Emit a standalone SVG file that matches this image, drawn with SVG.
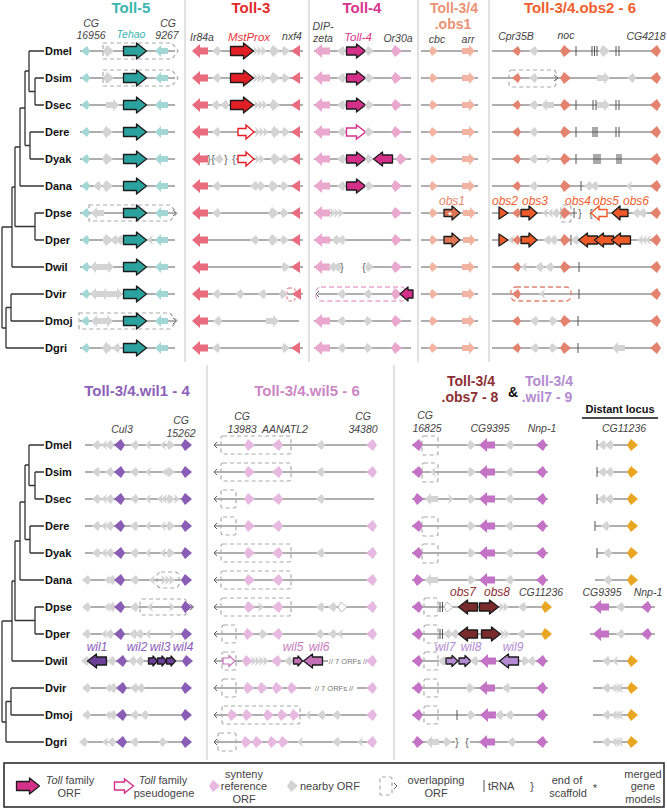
<svg xmlns="http://www.w3.org/2000/svg" xmlns:xlink="http://www.w3.org/1999/xlink" width="667" height="808" viewBox="0 0 667 808">
<style>
.g{fill:#d4d4d4}.g5{fill:#a3d7d5}.r3{fill:#e86b7e}.p4{fill:#eaa8cf}.s1{fill:#f2b3a1}.s2{fill:#e3836f}
.pu{fill:#8a5cb5}.pk{fill:#e8b9e0}.oc{fill:#c472c6}.au{fill:#e9a623}
.k{stroke:#1b1b1b;stroke-width:1.3;stroke-linejoin:round}
.T5{fill:#2ba29e}.T3{fill:#e31f26}.T4{fill:#d4308a}.O1{fill:#de7656}.O2{fill:#ef5a29}.W1{fill:#6b3e98}.W5{fill:#c46fb6}.O7{fill:#7b2a2c}.W7{fill:#b58ad5}
.P3{fill:#fff;stroke:#e31f26;stroke-width:1.4}.P4{fill:#fff;stroke:#d4308a;stroke-width:1.4}.PO{fill:#fff;stroke:#ef5a29;stroke-width:1.4}.PW{fill:#fff;stroke:#c46fb6;stroke-width:1.2}.PG{fill:#fff;stroke:#bdbdbd;stroke-width:1}
.ln{fill:none;stroke:#5e5e5e;stroke-width:1}
.tk{fill:none;stroke:#555;stroke-width:1}
.db{fill:none;stroke:#aaa;stroke-width:1.2;stroke-dasharray:4 3}
.sep{stroke:#c4c4c4;stroke-width:1}
.tree{fill:none;stroke:#333;stroke-width:1.3}
text{font-family:"Liberation Sans",Arial,sans-serif}
.sp{font-weight:bold;font-size:11px;fill:#111}
.ti{font-weight:bold;font-size:15px;text-anchor:middle}
.t2{font-weight:bold;font-size:14px;text-anchor:middle}
.lb{font-style:italic;font-size:10.5px;fill:#444;text-anchor:middle}
.on{font-style:italic;font-size:12px;text-anchor:middle}
.br{font-size:10px;fill:#555;text-anchor:middle}
.orf{font-size:7.5px;fill:#777;text-anchor:middle}
.lg{font-size:11px;fill:#444;text-anchor:middle}
</style>
<defs>
<path id="kr" d="M-4,0L-1,-5L5,0L-1,5Z"/>
<path id="kl" d="M4,0L1,-5L-5,0L1,5Z"/>
<path id="Kr" d="M-5,0L-1,-6L6,0L-1,6Z"/>
<path id="Kl" d="M5,0L1,-6L-6,0L1,6Z"/>
<path id="cr" d="M-3,-5L3,0L-3,5L-1.5,0Z"/>
<path id="cl" d="M3,-5L-3,0L3,5L1.5,0Z"/>
<path id="mr" d="M-7,-3H0V-6L6,0L0,6V3H-7Z"/>
<path id="ml" d="M7,-3H0V-6L-6,0L0,6V3H7Z"/>
<path id="Lr" d="M-8,-3.5H0V-7L8,0L0,7V3.5H-8Z"/>
<path id="Ll" d="M8,-3.5H0V-7L-8,0L0,7V3.5H8Z"/>
<path id="tl" d="M-5,0L4,-6V6Z"/>
<path id="tr" d="M5,0L-4,-6V6Z"/>
<path id="Tr" d="M-11.5,-4.5H1.5V-8L11.5,0L1.5,8V4.5H-11.5Z"/>
<path id="Ur" d="M-9.5,-4H0.5V-7L9.5,0L0.5,7V4H-9.5Z"/>
<path id="Ul" d="M9.5,-4H-0.5V-7L-9.5,0L-0.5,7V4H9.5Z"/>
<path id="sr" d="M-6,-3H0V-5.5L6,0L0,5.5V3H-6Z"/>
<path id="qr" d="M-4.5,-3H0V-5L4.5,0L0,5V3H-4.5Z"/>
</defs>
<rect width="667" height="808" fill="#fff"/>

<g id="connectors">
<path id="treeTop" class="tree" d="M29,51H44M35,78H44M35,105H44M35,78V105M29,91.5H35M29,51V91.5M25,71H29M30,132H44M30,159H44M30,132V159M25,145.5H30M25,71V145.5M20,108H25M20,186H44M20,108V186M15,147H20M35,213H44M35,240H44M35,213V240M15,226.5H35M15,147V226.5M12,187H15M12,267H44M12,187V267M2,227H12M11,294H44M11,321H44M11,294V321M6,307.5H11M6,348H44M6,307.5V348M2,328H6M2,227V328"/>
<path class="tree" transform="translate(0,394)" d="M29,51H44M35,78H44M35,105H44M35,78V105M29,91.5H35M29,51V91.5M25,71H29M30,132H44M30,159H44M30,132V159M25,145.5H30M25,71V145.5M20,108H25M20,186H44M20,108V186M15,147H20M35,213H44M35,240H44M35,213V240M15,226.5H35M15,147V226.5M12,187H15M12,267H44M12,187V267M2,227H12M11,294H44M11,321H44M11,294V321M6,307.5H11M6,348H44M6,307.5V348M2,328H6M2,227V328"/>
</g>

<g id="species">
<text class="sp" x="45" y="55">Dmel</text><text class="sp" x="45" y="82">Dsim</text><text class="sp" x="45" y="109">Dsec</text><text class="sp" x="45" y="136">Dere</text><text class="sp" x="45" y="163">Dyak</text><text class="sp" x="45" y="190">Dana</text><text class="sp" x="45" y="217">Dpse</text><text class="sp" x="45" y="244">Dper</text><text class="sp" x="45" y="271">Dwil</text><text class="sp" x="45" y="298">Dvir</text><text class="sp" x="45" y="325">Dmoj</text><text class="sp" x="45" y="352">Dgri</text>
<text class="sp" x="45" y="449">Dmel</text><text class="sp" x="45" y="476">Dsim</text><text class="sp" x="45" y="503">Dsec</text><text class="sp" x="45" y="530">Dere</text><text class="sp" x="45" y="557">Dyak</text><text class="sp" x="45" y="584">Dana</text><text class="sp" x="45" y="611">Dpse</text><text class="sp" x="45" y="638">Dper</text><text class="sp" x="45" y="665">Dwil</text><text class="sp" x="45" y="692">Dvir</text><text class="sp" x="45" y="719">Dmoj</text><text class="sp" x="45" y="746">Dgri</text>
</g>

<g id="separators">
<path class="sep" d="M185,0V362M309,0V362M418,0V362M489,0V362M207,365V760M394,365V760"/>
</g>

<g id="toll5">
<text class="ti" x="131" y="13" fill="#3bb5b0">Toll-5</text>
<text class="lb" x="91" y="27">CG</text><text class="lb" x="91" y="39">16956</text>
<text class="lb" x="131" y="38" style="fill:#3bb5b0">Tehao</text>
<text class="lb" x="168" y="27">CG</text><text class="lb" x="167" y="39">9267</text>
<path class="ln" d="M80,51H175M80,78H175M80,105H175M80,132H175M80,159H175M80,186H175M80,213H176M80,240H175M80,267H175M80,294H175M80,321H176M80,348H175M173,210L176.5,213L173,216M173,318L176.5,321L173,324"/>
<path class="db" d="M103,43H172L178,51L172,59H103ZM103,70H172L178,78L172,86H103ZM89,205H170L177,213L170,221H89ZM79,313H170L177,321L170,329H79Z"/>
<use href="#kl" x="86" y="51" class="g5"/><use href="#Kr" x="108" y="51" class="g"/><use href="#Tr" x="135" y="51" class="T5 k"/><use href="#ml" x="161" y="51" class="g5"/>
<use href="#kl" x="86" y="78" class="g5"/><use href="#Kr" x="108" y="78" class="g"/><use href="#Tr" x="135" y="78" class="T5 k"/><use href="#ml" x="161" y="78" class="g5"/>
<use href="#kl" x="86" y="105" class="g5"/><use href="#mr" x="113" y="105" class="g"/><use href="#Tr" x="135" y="105" class="T5 k"/><use href="#ml" x="161" y="105" class="g5"/>
<use href="#kl" x="86" y="132" class="g5"/><use href="#Kr" x="107" y="132" class="g"/><use href="#Tr" x="135" y="132" class="T5 k"/><use href="#ml" x="161" y="132" class="g5"/>
<use href="#kl" x="86" y="159" class="g5"/><use href="#Kr" x="107" y="159" class="g"/><use href="#Tr" x="135" y="159" class="T5 k"/><use href="#ml" x="161" y="159" class="g5"/>
<use href="#kl" x="86" y="186" class="g5"/><use href="#kl" x="98" y="186" class="g"/><use href="#Kr" x="107" y="186" class="g"/><use href="#Tr" x="135" y="186" class="T5 k"/><use href="#ml" x="161" y="186" class="g5"/>
<use href="#kl" x="86" y="213" class="g5"/><use href="#ml" x="97" y="213" class="g"/><use href="#Tr" x="135" y="213" class="T5 k"/><use href="#ml" x="161" y="213" class="g5"/>
<use href="#kl" x="86" y="240" class="g5"/><use href="#Kr" x="107" y="240" class="g"/><use href="#kl" x="115" y="240" class="g"/><use href="#kl" x="120" y="240" class="g"/><use href="#Tr" x="135" y="240" class="T5 k"/><use href="#cl" x="150" y="240" class="g"/><use href="#ml" x="161" y="240" class="g5"/>
<use href="#kl" x="86" y="267" class="g5"/><use href="#ml" x="96" y="267" class="g"/><use href="#mr" x="108" y="267" class="g"/><use href="#Tr" x="135" y="267" class="T5 k"/><use href="#ml" x="161" y="267" class="g5"/>
<use href="#kl" x="86" y="294" class="g5"/><use href="#ml" x="96" y="294" class="g"/><use href="#ml" x="106" y="294" class="g"/><use href="#mr" x="117" y="294" class="g"/><use href="#Tr" x="135" y="294" class="T5 k"/><use href="#ml" x="161" y="294" class="g5"/>
<use href="#kl" x="86" y="321" class="g5"/><use href="#ml" x="97" y="321" class="g"/><use href="#mr" x="107" y="321" class="g"/><use href="#Tr" x="135" y="321" class="T5 k"/><use href="#ml" x="161" y="321" class="g5"/>
<use href="#kl" x="86" y="348" class="g5"/><use href="#Kr" x="107" y="348" class="g"/><use href="#kl" x="117" y="348" class="g"/><use href="#Tr" x="135" y="348" class="T5 k"/><use href="#ml" x="161" y="348" class="g5"/>
</g>

<g id="toll3">
<text class="ti" x="251" y="13" fill="#e02a2a">Toll-3</text>
<text class="lb" x="202" y="41">Ir84a</text>
<text class="lb" x="249" y="41" style="fill:#e8363a;font-size:11.5px">MstProx</text>
<text class="lb" x="292" y="40">nxf4</text>
<path class="ln" d="M193,51H303M193,78H303M193,105H303M193,132H303M193,159H207M214,159H223M236,159H303M193,186H303M193,213H303M193,240H303M193,267H303M193,294H303M193,321H299M193,348H303"/>
<text class="br" x="209" y="163">}</text><text class="br" x="213" y="163">{</text><text class="br" x="226" y="163">}</text><text class="br" x="234" y="163">{</text>
<rect x="287" y="288" width="8" height="13" rx="2" fill="none" stroke="#e86b7e" stroke-width="1" stroke-dasharray="3 2"/>
<use href="#Ll" x="200" y="51" class="r3"/><use href="#kl" x="217" y="51" class="g"/><use href="#Tr" x="242" y="51" class="T3 k"/><use href="#cr" x="256" y="51" class="g"/><use href="#cr" x="260" y="51" class="g"/><use href="#cr" x="264" y="51" class="g"/><use href="#Kr" x="274" y="51" class="g"/><use href="#kr" x="285" y="51" class="g"/><use href="#tl" x="296" y="51" class="r3"/>
<use href="#Ll" x="200" y="78" class="r3"/><use href="#kl" x="217" y="78" class="g"/><use href="#Tr" x="242" y="78" class="T3 k"/><use href="#cr" x="256" y="78" class="g"/><use href="#cr" x="260" y="78" class="g"/><use href="#cr" x="264" y="78" class="g"/><use href="#Kr" x="274" y="78" class="g"/><use href="#kr" x="285" y="78" class="g"/><use href="#tl" x="296" y="78" class="r3"/>
<use href="#Ll" x="200" y="105" class="r3"/><use href="#kl" x="216" y="105" class="g"/><use href="#kl" x="225" y="105" class="g"/><use href="#Tr" x="242" y="105" class="T3 k"/><use href="#cr" x="257" y="105" class="g"/><use href="#cr" x="261" y="105" class="g"/><use href="#cr" x="265" y="105" class="g"/><use href="#Kr" x="274" y="105" class="g"/><use href="#tl" x="296" y="105" class="r3"/>
<use href="#Ll" x="200" y="132" class="r3"/><use href="#kl" x="217" y="132" class="g"/><use href="#Lr" x="246" y="132" class="P3"/><use href="#cr" x="258" y="132" class="g"/><use href="#cr" x="262" y="132" class="g"/><use href="#cr" x="266" y="132" class="g"/><use href="#Kr" x="275" y="132" class="g"/><use href="#kr" x="285" y="132" class="g"/><use href="#tl" x="296" y="132" class="r3"/>
<use href="#Ll" x="200" y="159" class="r3"/><use href="#kl" x="219" y="159" class="g"/><use href="#Lr" x="246" y="159" class="P3"/><use href="#cr" x="258" y="159" class="g"/><use href="#cr" x="262" y="159" class="g"/><use href="#Kr" x="275" y="159" class="g"/><use href="#kr" x="285" y="159" class="g"/><use href="#tl" x="296" y="159" class="r3"/>
<use href="#Ll" x="200" y="186" class="r3"/><use href="#kl" x="217" y="186" class="g"/><use href="#kl" x="255" y="186" class="g"/><use href="#kr" x="261" y="186" class="g"/><use href="#Kr" x="273" y="186" class="g"/><use href="#kr" x="284" y="186" class="g"/><use href="#tl" x="296" y="186" class="r3"/>
<use href="#Ll" x="200" y="213" class="r3"/><use href="#kl" x="217" y="213" class="g"/><use href="#Kr" x="273" y="213" class="g"/><use href="#kr" x="284" y="213" class="g"/><use href="#tl" x="296" y="213" class="r3"/>
<use href="#Ll" x="200" y="240" class="r3"/><use href="#kl" x="255" y="240" class="g"/><use href="#Kr" x="273" y="240" class="g"/><use href="#kr" x="284" y="240" class="g"/><use href="#tl" x="296" y="240" class="r3"/>
<use href="#Ll" x="200" y="267" class="r3"/><use href="#kr" x="285" y="267" class="g"/><use href="#tl" x="296" y="267" class="r3"/>
<use href="#Ll" x="200" y="294" class="r3"/><use href="#kl" x="217" y="294" class="g"/><use href="#kl" x="240" y="294" class="g"/><use href="#kl" x="263" y="294" class="g"/><use href="#kr" x="283" y="294" class="g"/><use href="#tl" x="297" y="294" class="r3"/>
<use href="#Ll" x="200" y="321" class="r3"/><use href="#kl" x="218" y="321" class="g"/><use href="#mr" x="273" y="321" class="g"/>
<use href="#Ll" x="200" y="348" class="r3"/><use href="#kl" x="217" y="348" class="g"/><use href="#kr" x="285" y="348" class="g"/><use href="#tl" x="296" y="348" class="r3"/>
</g>

<g id="toll4">
<text class="ti" x="362" y="13" fill="#d8358b">Toll-4</text>
<text class="lb" x="323" y="30">DIP-</text><text class="lb" x="323" y="42">zeta</text>
<text class="lb" x="358" y="41" style="fill:#d8358b;font-size:11.5px">Toll-4</text>
<text class="lb" x="398" y="42">Or30a</text>
<path class="ln" d="M314,51H411M314,78H411M314,105H411M314,132H411M314,159H411M314,186H411M314,213H411M314,240H411M314,267H340M366,267H411M318,294H402M319,291L316,294L319,297M314,321H411M314,348H411"/>
<text class="br" x="342" y="271">}</text><text class="br" x="364" y="271">{</text>
<rect x="316" y="287" width="90" height="14" rx="5" fill="none" stroke="#eaa8cf" stroke-width="1.3" stroke-dasharray="5 3"/>
<use href="#Ll" x="322" y="51" class="p4"/><use href="#kl" x="342" y="51" class="g"/><use href="#Ur" x="356" y="51" class="T4 k"/><use href="#kr" x="369" y="51" class="g"/><use href="#Kr" x="396" y="51" class="p4"/>
<use href="#Ll" x="322" y="78" class="p4"/><use href="#kl" x="342" y="78" class="g"/><use href="#Ur" x="356" y="78" class="T4 k"/><use href="#kr" x="369" y="78" class="g"/><use href="#Kr" x="396" y="78" class="p4"/>
<use href="#Ll" x="322" y="105" class="p4"/><use href="#kl" x="342" y="105" class="g"/><use href="#Ur" x="356" y="105" class="T4 k"/><use href="#kr" x="369" y="105" class="g"/><use href="#Kr" x="396" y="105" class="p4"/>
<use href="#Ll" x="322" y="132" class="p4"/><use href="#kl" x="342" y="132" class="g"/><use href="#Ur" x="356" y="132" class="P4"/><use href="#kr" x="369" y="132" class="g"/><use href="#Kr" x="396" y="132" class="p4"/>
<use href="#Ll" x="322" y="159" class="p4"/><use href="#kl" x="342" y="159" class="g"/><use href="#Ur" x="356" y="159" class="T4 k"/><use href="#kr" x="369" y="159" class="g"/><use href="#Kr" x="401" y="159" class="p4"/><use href="#Ul" x="383" y="159" class="T4 k"/>
<use href="#Ll" x="322" y="186" class="p4"/><use href="#kl" x="342" y="186" class="g"/><use href="#Ur" x="356" y="186" class="T4 k"/><use href="#kr" x="369" y="186" class="g"/><use href="#Kr" x="396" y="186" class="p4"/>
<use href="#Ll" x="322" y="213" class="p4"/><use href="#cr" x="333" y="213" class="g"/><use href="#cr" x="337" y="213" class="g"/><use href="#cr" x="341" y="213" class="g"/><use href="#Kr" x="396" y="213" class="p4"/>
<use href="#Ll" x="322" y="240" class="p4"/><use href="#kl" x="336" y="240" class="g"/><use href="#kl" x="342" y="240" class="g"/><use href="#Kr" x="396" y="240" class="p4"/>
<use href="#Ll" x="322" y="267" class="p4"/><use href="#kl" x="333" y="267" class="g"/><use href="#kl" x="338" y="267" class="g"/><use href="#kr" x="369" y="267" class="g"/><use href="#Kr" x="396" y="267" class="p4"/>
<use href="#kl" x="342" y="294" class="g"/><use href="#kl" x="368" y="294" class="g"/><use href="#Kr" x="396" y="294" class="p4"/>
<path class="T4 k" d="M400,294L408,287V290H413V298H408V301Z"/>
<use href="#Ll" x="322" y="321" class="p4"/><use href="#kl" x="342" y="321" class="g"/><use href="#kr" x="368" y="321" class="g"/><use href="#Kr" x="396" y="321" class="p4"/>
<use href="#Ll" x="322" y="348" class="p4"/><use href="#kl" x="342" y="348" class="g"/><use href="#kr" x="368" y="348" class="g"/><use href="#Kr" x="396" y="348" class="p4"/>
</g>

<g id="obs1">
<text class="t2" x="454" y="13" fill="#eb9274">Toll-3/4</text>
<text class="t2" x="453" y="29" fill="#eb9274">.obs1</text>
<text class="lb" x="437" y="43">cbc</text><text class="lb" x="468" y="43">arr</text>
<text class="on" x="452" y="205" fill="#e8866a">obs1</text>
<path class="ln" d="M421,51H478M421,78H478M421,105H478M421,132H478M421,159H478M421,186H478M421,213H478M421,240H478M421,267H478M421,294H478M421,321H478M421,348H478"/>
<use href="#kr" x="433" y="51" class="s1"/><use href="#mr" x="469" y="51" class="s1"/>
<use href="#kr" x="433" y="78" class="s1"/><use href="#mr" x="469" y="78" class="s1"/>
<use href="#kr" x="433" y="105" class="s1"/><use href="#mr" x="469" y="105" class="s1"/>
<use href="#kr" x="433" y="132" class="s1"/><use href="#mr" x="469" y="132" class="s1"/>
<use href="#kr" x="433" y="159" class="s1"/><use href="#mr" x="469" y="159" class="s1"/>
<use href="#kr" x="433" y="186" class="s1"/><use href="#mr" x="469" y="186" class="s1"/>
<use href="#kr" x="433" y="213" class="s1"/><use href="#mr" x="470" y="213" class="s1"/><use href="#Lr" x="452" y="213" class="O1 k"/>
<text x="450" y="218" style="font-size:9px;font-weight:bold;fill:#fff;text-anchor:middle">*</text>
<use href="#kr" x="433" y="240" class="s1"/><use href="#mr" x="470" y="240" class="s1"/><use href="#Lr" x="452" y="240" class="O1 k"/>
<use href="#kr" x="433" y="267" class="s1"/><use href="#mr" x="469" y="267" class="s1"/>
<use href="#kr" x="433" y="294" class="s1"/><use href="#mr" x="469" y="294" class="s1"/>
<use href="#kr" x="433" y="321" class="s1"/><use href="#mr" x="469" y="321" class="s1"/>
<use href="#kr" x="433" y="348" class="s1"/><use href="#mr" x="469" y="348" class="s1"/>
</g>

<g id="obs2-6">
<text class="ti" x="580" y="13" fill="#f0602e">Toll-3/4.obs2 - 6</text>
<text class="lb" x="516" y="40">Cpr35B</text><text class="lb" x="566" y="39">noc</text><text class="lb" x="646" y="40">CG4218</text>
<text class="on" x="505" y="205" fill="#ef5f30">obs2</text><text class="on" x="535" y="205" fill="#ef5f30">obs3</text><text class="on" x="578" y="205" fill="#ef5f30">obs4</text><text class="on" x="606" y="205" fill="#ef5f30">obs5</text><text class="on" x="636" y="205" fill="#ef5f30">obs6</text>
<path class="ln" d="M492,51H660M492,78H660M492,105H660M492,132H660M492,159H660M492,186H660M492,213H577M593,213H660M492,240H660M492,267H660M492,294H660M492,321H660M492,348H660"/>
<path class="tk" d="M576,46v10M592,46v10M594.5,46v10M597,46v10M616,46v10M619,46v10M576,100v10M593,100v10M596,100v10M616,100v10M619,100v10M576,127v10M593,127v10M595,127v10M597,127v10M616,127v10M619,127v10M576,154v10M594,154v10M596,154v10M598,154v10M600,154v10M617,154v10M619,154v10M621,154v10M581,181v10M574,208v10M571,235v10M579,262v10M579,289v10M578,316v10M578,343v10"/>
<rect class="db" x="509" y="70" width="47" height="17" rx="3"/>
<path class="ln" d="M554,75L558,78L554,81"/>
<rect class="db" x="561" y="205" width="10" height="17" rx="2"/>
<rect x="511" y="287" width="60" height="14" rx="5" fill="none" stroke="#e3836f" stroke-width="1.3" stroke-dasharray="5 3"/>
<text class="br" x="580" y="217">}</text><text class="br" x="591" y="217">{</text>
<use href="#kl" x="517" y="51" class="s2"/><use href="#kl" x="534" y="51" class="g"/><use href="#Kr" x="565" y="51" class="s2"/><use href="#Kr" x="604" y="51" class="g"/><use href="#Kl" x="656" y="51" class="s2"/>
<use href="#kl" x="517" y="78" class="s2"/><use href="#kl" x="534" y="78" class="g"/><use href="#Kr" x="565" y="78" class="s2"/><use href="#mr" x="604" y="78" class="g"/><use href="#kl" x="632" y="78" class="g"/><use href="#Kl" x="656" y="78" class="s2"/>
<use href="#kl" x="517" y="105" class="s2"/><use href="#kl" x="534" y="105" class="g"/><use href="#ml" x="547" y="105" class="g"/><use href="#Kr" x="565" y="105" class="s2"/><use href="#mr" x="604" y="105" class="g"/><use href="#Kl" x="656" y="105" class="s2"/>
<use href="#kl" x="517" y="132" class="s2"/><use href="#kl" x="534" y="132" class="g"/><use href="#Kr" x="565" y="132" class="s2"/><use href="#Kl" x="656" y="132" class="s2"/>
<use href="#kl" x="517" y="159" class="s2"/><use href="#kl" x="534" y="159" class="g"/><use href="#cr" x="549" y="159" class="g"/><use href="#Kr" x="565" y="159" class="s2"/><use href="#Kl" x="656" y="159" class="s2"/>
<use href="#kl" x="517" y="186" class="s2"/><use href="#kl" x="534" y="186" class="g"/><use href="#Kr" x="565" y="186" class="s2"/><use href="#kl" x="589" y="186" class="g"/><use href="#kl" x="595" y="186" class="g"/><use href="#cl" x="629" y="186" class="g"/><use href="#Kl" x="656" y="186" class="s2"/>
<use href="#tr" x="503" y="213" class="O2 k"/><use href="#kl" x="517" y="213" class="s2"/><use href="#Lr" x="529" y="213" class="O2 k"/><use href="#cl" x="545" y="213" class="g"/><use href="#cl" x="550" y="213" class="g"/><use href="#kl" x="556" y="213" class="g"/><use href="#Kr" x="565" y="213" class="s2"/><use href="#Ll" x="599" y="213" class="PO"/><use href="#Ll" x="620" y="213" class="O2 k"/><use href="#kl" x="637" y="213" class="g"/><use href="#kl" x="643" y="213" class="g"/><use href="#Kl" x="656" y="213" class="s2"/>
<use href="#tr" x="503" y="240" class="O2 k"/><use href="#cl" x="511" y="240" class="g"/><use href="#kl" x="517" y="240" class="s2"/><use href="#Lr" x="529" y="240" class="O2 k"/><use href="#kl" x="548" y="240" class="g"/><use href="#kl" x="554" y="240" class="g"/><use href="#Kr" x="565" y="240" class="s2"/><use href="#kl" x="576" y="240" class="g"/><use href="#Ul" x="588" y="240" class="O2 k"/><use href="#Ul" x="604" y="240" class="O2 k"/><use href="#Ul" x="621" y="240" class="O2 k"/><use href="#cl" x="640" y="240" class="g"/><use href="#cl" x="644" y="240" class="g"/><use href="#cl" x="648" y="240" class="g"/><use href="#Kl" x="656" y="240" class="s2"/>
<use href="#kl" x="517" y="267" class="s2"/><use href="#cl" x="524" y="267" class="g"/><use href="#kl" x="540" y="267" class="g"/><use href="#kl" x="550" y="267" class="g"/><use href="#Kr" x="565" y="267" class="s2"/><use href="#Kl" x="656" y="267" class="s2"/>
<use href="#kl" x="517" y="294" class="s2"/><use href="#cl" x="542" y="294" class="g"/><use href="#Kl" x="656" y="294" class="s2"/>
<use href="#kl" x="517" y="321" class="s2"/><use href="#kl" x="535" y="321" class="g"/><use href="#kr" x="553" y="321" class="g"/><use href="#Kr" x="565" y="321" class="s2"/><use href="#Kl" x="656" y="321" class="s2"/>
<use href="#kl" x="517" y="348" class="s2"/><use href="#kl" x="535" y="348" class="g"/><use href="#kr" x="553" y="348" class="g"/><use href="#Kr" x="565" y="348" class="s2"/><use href="#ml" x="618" y="348" class="g"/><use href="#Kl" x="656" y="348" class="s2"/>
</g>

<g id="wil1-4">
<text class="ti" x="137" y="396" fill="#8d60b8">Toll-3/4.wil1 - 4</text>
<text class="lb" x="122" y="433">Cul3</text><text class="lb" x="181" y="424">CG</text><text class="lb" x="181" y="437">15262</text>
<text class="on" x="97" y="651" fill="#8a5cb8">wil1</text><text class="on" x="137" y="651" fill="#8a5cb8">wil2</text><text class="on" x="160" y="651" fill="#8a5cb8">wil3</text><text class="on" x="183" y="651" fill="#8a5cb8">wil4</text>
<path class="ln" d="M85,445H191M85,472H191M85,499H191M85,526H191M85,553H191M83,580H191M83,607H193M190,604L193.5,607L190,610M83,634H191M83,661H191M83,688H191M83,715H191M83,742H191"/>
<rect class="db" x="157" y="572" width="22" height="16" rx="4"/>
<rect class="db" x="140" y="599" width="46" height="16" rx="2"/>
<use href="#kl" x="97" y="445" class="g"/><use href="#cl" x="104" y="445" class="g"/><use href="#kl" x="110" y="445" class="g"/><use href="#Kl" x="120" y="445" class="pu"/><use href="#kl" x="135" y="445" class="g"/><use href="#cl" x="148" y="445" class="g"/><use href="#cl" x="163" y="445" class="g"/><use href="#kr" x="170" y="445" class="g"/><use href="#Kr" x="186" y="445" class="pu"/>
<use href="#kl" x="97" y="472" class="g"/><use href="#kl" x="110" y="472" class="g"/><use href="#Kl" x="120" y="472" class="pu"/><use href="#kl" x="135" y="472" class="g"/><use href="#cl" x="148" y="472" class="g"/><use href="#cl" x="165" y="472" class="g"/><use href="#kr" x="170" y="472" class="g"/><use href="#Kr" x="186" y="472" class="pu"/>
<use href="#kl" x="97" y="499" class="g"/><use href="#cl" x="104" y="499" class="g"/><use href="#kl" x="110" y="499" class="g"/><use href="#Kl" x="120" y="499" class="pu"/><use href="#kl" x="135" y="499" class="g"/><use href="#cl" x="148" y="499" class="g"/><use href="#cl" x="160" y="499" class="g"/><use href="#cl" x="164" y="499" class="g"/><use href="#kr" x="170" y="499" class="g"/><use href="#cr" x="177" y="499" class="g"/><use href="#Kr" x="186" y="499" class="pu"/>
<use href="#kl" x="97" y="526" class="g"/><use href="#cl" x="104" y="526" class="g"/><use href="#kl" x="110" y="526" class="g"/><use href="#Kl" x="120" y="526" class="pu"/><use href="#kl" x="135" y="526" class="g"/><use href="#cl" x="148" y="526" class="g"/><use href="#cl" x="163" y="526" class="g"/><use href="#kr" x="170" y="526" class="g"/><use href="#Kr" x="186" y="526" class="pu"/>
<use href="#kl" x="97" y="553" class="g"/><use href="#cl" x="104" y="553" class="g"/><use href="#kl" x="110" y="553" class="g"/><use href="#Kl" x="120" y="553" class="pu"/><use href="#kl" x="135" y="553" class="g"/><use href="#cl" x="148" y="553" class="g"/><use href="#cl" x="163" y="553" class="g"/><use href="#kr" x="170" y="553" class="g"/><use href="#Kr" x="186" y="553" class="pu"/>
<use href="#kl" x="87" y="580" class="g"/><use href="#cl" x="107" y="580" class="g"/><use href="#kl" x="112" y="580" class="g"/><use href="#Kl" x="120" y="580" class="pu"/><use href="#kl" x="135" y="580" class="g"/><use href="#cl" x="152" y="580" class="g"/><use href="#cr" x="164" y="580" class="g"/><use href="#cr" x="168" y="580" class="g"/><use href="#cr" x="172" y="580" class="g"/><use href="#Kr" x="186" y="580" class="pu"/>
<use href="#kl" x="87" y="607" class="g"/><use href="#cl" x="107" y="607" class="g"/><use href="#kl" x="112" y="607" class="g"/><use href="#Kl" x="120" y="607" class="pu"/><use href="#kl" x="135" y="607" class="g"/><use href="#cl" x="150" y="607" class="g"/><use href="#cr" x="172" y="607" class="g"/><use href="#Kr" x="186" y="607" class="pu"/>
<use href="#kl" x="87" y="634" class="g"/><use href="#cl" x="104" y="634" class="g"/><use href="#kl" x="110" y="634" class="g"/><use href="#Kl" x="120" y="634" class="pu"/><use href="#kl" x="134" y="634" class="g"/><use href="#kl" x="140" y="634" class="g"/><use href="#cl" x="148" y="634" class="g"/><use href="#cr" x="173" y="634" class="g"/><use href="#Kr" x="186" y="634" class="pu"/>
<use href="#kl" x="86" y="661" class="g"/><use href="#Ul" x="97" y="661" class="W1 k"/><use href="#kl" x="112" y="661" class="g"/><use href="#Kl" x="122" y="661" class="pu"/><use href="#kl" x="133" y="661" class="g"/><use href="#kl" x="140" y="661" class="g"/><use href="#qr" x="153" y="661" class="W1 k"/><use href="#qr" x="162" y="661" class="W1 k"/><use href="#qr" x="171" y="661" class="W1 k"/><use href="#Kr" x="187" y="661" class="pu"/>
<use href="#kl" x="87" y="688" class="g"/><use href="#cl" x="108" y="688" class="g"/><use href="#kl" x="113" y="688" class="g"/><use href="#Kl" x="122" y="688" class="pu"/><use href="#kl" x="135" y="688" class="g"/><use href="#kl" x="141" y="688" class="g"/><use href="#Kr" x="186" y="688" class="pu"/>
<use href="#kl" x="87" y="715" class="g"/><use href="#cl" x="108" y="715" class="g"/><use href="#kl" x="113" y="715" class="g"/><use href="#Kl" x="122" y="715" class="pu"/><use href="#kl" x="135" y="715" class="g"/><use href="#kl" x="145" y="715" class="g"/><use href="#Kr" x="186" y="715" class="pu"/>
<use href="#kl" x="84" y="742" class="g"/><use href="#cl" x="105" y="742" class="g"/><use href="#kl" x="112" y="742" class="g"/><use href="#Kl" x="122" y="742" class="pu"/><use href="#kl" x="135" y="742" class="g"/><use href="#kr" x="163" y="742" class="g"/><use href="#Kr" x="186" y="742" class="pu"/>
</g>

<g id="wil5-6">
<text class="ti" x="307" y="396" fill="#cc86c4">Toll-3/4.wil5 - 6</text>
<text class="lb" x="242" y="420">CG</text><text class="lb" x="242" y="433">13983</text><text class="lb" x="285" y="433">AANATL2</text><text class="lb" x="363" y="420">CG</text><text class="lb" x="363" y="433">34380</text>
<text class="on" x="293" y="651" fill="#c77bbd">wil5</text><text class="on" x="319" y="651" fill="#c77bbd">wil6</text>
<path class="ln" d="M214,445H375M217,442L214,445L217,448M214,472H375M217,469L214,472L217,475M214,499H374M217,496L214,499L217,502M214,526H375M217,523L214,526L217,529M214,553H375M217,550L214,553L217,556M214,580H375M217,577L214,580L217,583M214,607H375M217,604L214,607L217,610M214,634H375M217,631L214,634L217,637M214,661H328M369,661H375M217,658L214,661L217,664M214,688H311M357,688H375M217,685L214,688L217,691M214,715H375M217,712L214,715L217,718M214,742H375M217,739L214,742L217,745"/>
<text class="orf" x="348" y="663.5">// 7 ORFs //</text><text class="orf" x="334" y="690.5">// 7 ORFs //</text>
<rect class="db" x="221" y="436" width="70" height="18" rx="2"/><rect class="db" x="221" y="463" width="70" height="18" rx="2"/><rect class="db" x="221" y="490" width="15" height="18" rx="2"/><rect class="db" x="221" y="517" width="15" height="18" rx="2"/><rect class="db" x="221" y="544" width="70" height="18" rx="2"/><rect class="db" x="221" y="571" width="70" height="18" rx="2"/><rect class="db" x="221" y="598" width="70" height="18" rx="2"/><rect class="db" x="222" y="625" width="14" height="18" rx="2"/><rect class="db" x="222" y="652" width="14" height="18" rx="2"/><rect class="db" x="222" y="679" width="14" height="18" rx="2"/><rect class="db" x="222" y="706" width="78" height="18" rx="2"/><rect class="db" x="218" y="733" width="18" height="18" rx="2"/>
<use href="#Kr" x="249" y="445" class="pk"/><use href="#Kl" x="278" y="445" class="pk"/><use href="#kl" x="321" y="445" class="g"/><use href="#Kl" x="372" y="445" class="pk"/>
<use href="#Kr" x="249" y="472" class="pk"/><use href="#Kl" x="278" y="472" class="pk"/><use href="#kl" x="321" y="472" class="g"/><use href="#Kl" x="372" y="472" class="pk"/>
<use href="#Kr" x="249" y="499" class="pk"/><use href="#Kl" x="278" y="499" class="pk"/><use href="#kl" x="321" y="499" class="g"/>
<use href="#Kr" x="249" y="526" class="pk"/><use href="#Kl" x="278" y="526" class="pk"/><use href="#Kl" x="372" y="526" class="pk"/>
<use href="#Kr" x="249" y="553" class="pk"/><use href="#Kl" x="278" y="553" class="pk"/><use href="#kl" x="321" y="553" class="g"/><use href="#Kl" x="372" y="553" class="pk"/>
<use href="#Kr" x="249" y="580" class="pk"/><use href="#Kl" x="278" y="580" class="pk"/><use href="#Kl" x="372" y="580" class="pk"/>
<use href="#Kr" x="249" y="607" class="pk"/><use href="#cr" x="261" y="607" class="g"/><use href="#Kl" x="278" y="607" class="pk"/><use href="#kl" x="321" y="607" class="g"/><use href="#kl" x="333" y="607" class="g"/><use href="#kr" x="342" y="607" class="PG"/><use href="#Kl" x="372" y="607" class="pk"/>
<use href="#Kr" x="248" y="634" class="pk"/><use href="#kr" x="263" y="634" class="g"/><use href="#Kl" x="278" y="634" class="pk"/><use href="#kl" x="320" y="634" class="g"/><use href="#kl" x="333" y="634" class="g"/><use href="#cl" x="340" y="634" class="g"/><use href="#Kl" x="372" y="634" class="pk"/>
<use href="#sr" x="229" y="661" class="PW"/><use href="#Kr" x="247" y="661" class="pk"/><use href="#cr" x="254" y="661" class="g"/><use href="#cr" x="258" y="661" class="g"/><use href="#cr" x="262" y="661" class="g"/><use href="#cr" x="266" y="661" class="g"/><use href="#Kl" x="277" y="661" class="pk"/><use href="#kl" x="289" y="661" class="g"/><use href="#qr" x="298" y="661" class="W5 k"/><use href="#Ul" x="313" y="661" class="W5 k"/><use href="#Kl" x="372" y="661" class="pk"/>
<use href="#Kr" x="248" y="688" class="pk"/><use href="#Kr" x="262" y="688" class="pk"/><use href="#Kr" x="277" y="688" class="pk"/><use href="#Kr" x="292" y="688" class="pk"/><use href="#Kl" x="372" y="688" class="pk"/>
<use href="#Kr" x="232" y="715" class="pk"/><use href="#Kr" x="247" y="715" class="pk"/><use href="#Kr" x="268" y="715" class="pk"/><use href="#Kr" x="282" y="715" class="pk"/><use href="#Kr" x="294" y="715" class="pk"/><use href="#cl" x="308" y="715" class="g"/><use href="#kl" x="322" y="715" class="g"/><use href="#kl" x="337" y="715" class="g"/><use href="#Kl" x="372" y="715" class="pk"/>
<use href="#Kr" x="246" y="742" class="pk"/><use href="#Kr" x="257" y="742" class="pk"/><use href="#Kr" x="272" y="742" class="pk"/><use href="#Kr" x="283" y="742" class="pk"/><use href="#cl" x="300" y="742" class="g"/><use href="#kl" x="337" y="742" class="g"/><use href="#cl" x="360" y="742" class="g"/><use href="#Kl" x="372" y="742" class="pk"/>
</g>

<g id="obs7-9">
<text class="t2" x="471" y="386" fill="#8c2f33">Toll-3/4</text>
<text class="t2" x="470" y="402" fill="#8c2f33">.obs7 - 8</text>
<text class="ti" x="513" y="397" fill="#111" style="font-size:14px">&amp;</text>
<text class="t2" x="549" y="386" fill="#b38bd0">Toll-3/4</text>
<text class="t2" x="547" y="402" fill="#b38bd0">.wil7 - 9</text>
<text class="lb" x="425" y="419">CG</text><text class="lb" x="427" y="432">16825</text><text class="lb" x="490" y="432">CG9395</text><text class="lb" x="542" y="432">Nnp-1</text>
<text class="on" x="463" y="596" fill="#8c2f33">obs7</text><text class="on" x="497" y="596" fill="#8c2f33">obs8</text><text class="lb" x="541" y="596">CG11236</text>
<text class="on" x="445" y="651" fill="#b38bd0">wil7</text><text class="on" x="471" y="651" fill="#b38bd0">wil8</text><text class="on" x="513" y="651" fill="#b38bd0">wil9</text>
<path class="ln" d="M412,445H548M412,472H548M412,499H548M412,526H548M412,553H548M412,580H548M412,607H548M412,634H548M412,661H548M412,688H548M412,715H548M412,742H455M470,742H548"/>
<path class="tk" d="M440,602v10M442.5,602v10M440,629v10M442.5,629v10M457,710v10"/>
<text class="br" x="457" y="746">}</text><text class="br" x="467" y="746">{</text>
<rect class="db" x="422" y="436" width="16" height="19" rx="2"/><rect class="db" x="422" y="463" width="16" height="19" rx="2"/><rect class="db" x="422" y="517" width="16" height="19" rx="2"/><rect class="db" x="422" y="544" width="16" height="19" rx="2"/><rect class="db" x="424" y="598" width="14" height="18" rx="2"/><rect class="db" x="424" y="625" width="14" height="18" rx="2"/><rect class="db" x="424" y="652" width="14" height="18" rx="2"/><rect class="db" x="424" y="679" width="14" height="18" rx="2"/><rect class="db" x="424" y="706" width="14" height="18" rx="2"/>
<use href="#Kl" x="418" y="445" class="oc"/><use href="#kr" x="471" y="445" class="g"/><use href="#Ll" x="487" y="445" class="oc"/><use href="#kl" x="510" y="445" class="g"/><use href="#Kl" x="542" y="445" class="oc"/>
<use href="#Kl" x="418" y="472" class="oc"/><use href="#cl" x="433" y="472" class="g"/><use href="#kr" x="471" y="472" class="g"/><use href="#Ll" x="487" y="472" class="oc"/><use href="#kl" x="510" y="472" class="g"/><use href="#Kl" x="542" y="472" class="oc"/>
<use href="#Kr" x="418" y="499" class="oc"/><use href="#ml" x="431" y="499" class="g"/><use href="#cr" x="451" y="499" class="g"/><use href="#kr" x="471" y="499" class="g"/><use href="#Ll" x="487" y="499" class="oc"/><use href="#kl" x="510" y="499" class="g"/><use href="#Kl" x="542" y="499" class="oc"/>
<use href="#Kl" x="418" y="526" class="oc"/><use href="#kr" x="471" y="526" class="g"/><use href="#Ll" x="487" y="526" class="oc"/><use href="#kl" x="510" y="526" class="g"/><use href="#Kl" x="542" y="526" class="oc"/>
<use href="#Kl" x="418" y="553" class="oc"/><use href="#kr" x="471" y="553" class="g"/><use href="#Ll" x="487" y="553" class="oc"/><use href="#kl" x="510" y="553" class="g"/><use href="#Kl" x="542" y="553" class="oc"/>
<use href="#Kr" x="418" y="580" class="oc"/><use href="#ml" x="431" y="580" class="g"/><use href="#kr" x="471" y="580" class="g"/><use href="#Ll" x="487" y="580" class="oc"/><use href="#kl" x="510" y="580" class="g"/><use href="#Kl" x="542" y="580" class="oc"/>
<use href="#Kl" x="418" y="607" class="oc"/><use href="#kr" x="448" y="607" class="PG"/><use href="#Ul" x="468" y="607" class="O7 k"/><use href="#Ur" x="489" y="607" class="O7 k"/><use href="#cr" x="502" y="607" class="g"/><use href="#cr" x="506" y="607" class="g"/><use href="#kl" x="523" y="607" class="g"/><use href="#Kr" x="546" y="607" class="au"/>
<use href="#Kl" x="418" y="634" class="oc"/><use href="#kl" x="448" y="634" class="g"/><use href="#kl" x="455" y="634" class="g"/><use href="#Ul" x="468" y="634" class="O7 k"/><use href="#Ur" x="491" y="634" class="O7 k"/><use href="#cr" x="503" y="634" class="g"/><use href="#cr" x="507" y="634" class="g"/><use href="#kl" x="522" y="634" class="g"/><use href="#Kr" x="546" y="634" class="au"/>
<use href="#Kl" x="418" y="661" class="oc"/><use href="#kl" x="443" y="661" class="g"/><use href="#sr" x="452" y="661" class="W7 k"/><use href="#sr" x="465" y="661" class="W7 k"/><use href="#kl" x="475" y="661" class="g"/><use href="#Ll" x="488" y="661" class="oc"/><use href="#Ul" x="509" y="661" class="W7 k"/><use href="#kr" x="525" y="661" class="g"/><use href="#kl" x="532" y="661" class="g"/><use href="#Kl" x="542" y="661" class="oc"/>
<use href="#Kl" x="418" y="688" class="oc"/><use href="#kr" x="470" y="688" class="g"/><use href="#Ll" x="487" y="688" class="oc"/><use href="#kl" x="507" y="688" class="g"/><use href="#Kl" x="542" y="688" class="oc"/>
<use href="#Kl" x="418" y="715" class="oc"/><use href="#kr" x="471" y="715" class="g"/><use href="#Ll" x="488" y="715" class="oc"/><use href="#kl" x="500" y="715" class="g"/><use href="#kl" x="510" y="715" class="g"/><use href="#Kl" x="542" y="715" class="oc"/>
<use href="#Kr" x="418" y="742" class="oc"/><use href="#ml" x="432" y="742" class="g"/><use href="#kr" x="447" y="742" class="g"/><use href="#Ll" x="487" y="742" class="oc"/><use href="#kl" x="512" y="742" class="g"/><use href="#Kl" x="542" y="742" class="oc"/>
</g>

<g id="distant">
<text x="620" y="413" style="font-weight:bold;font-size:11px;fill:#111;text-anchor:middle">Distant locus</text>
<path d="M582,418H658" stroke="#111" stroke-width="1.3"/>
<text class="lb" x="624" y="432">CG11236</text>
<text class="lb" x="602" y="596">CG9395</text><text class="lb" x="648" y="596">Nnp-1</text>
<path class="ln" d="M597,445H636M597,472H636M597,499H636M595,526H636M597,553H636M595,580H636M590,607H655M590,634H655M593,661H636M593,688H636M593,715H636M593,742H636"/>
<path class="tk" d="M597,440v10M597,467v10M597,494v10M595,521v10M597,548v10"/>
<use href="#kl" x="603" y="445" class="g"/><use href="#kl" x="610" y="445" class="g"/><use href="#Kr" x="632" y="445" class="au"/>
<use href="#kl" x="603" y="472" class="g"/><use href="#kl" x="610" y="472" class="g"/><use href="#Kr" x="632" y="472" class="au"/>
<use href="#kl" x="603" y="499" class="g"/><use href="#kl" x="610" y="499" class="g"/><use href="#Kr" x="632" y="499" class="au"/>
<use href="#kl" x="606" y="526" class="g"/><use href="#Kr" x="632" y="526" class="au"/>
<use href="#kl" x="608" y="553" class="g"/><use href="#Kr" x="632" y="553" class="au"/>
<use href="#kl" x="608" y="580" class="g"/><use href="#Kr" x="632" y="580" class="au"/>
<use href="#Ll" x="601" y="607" class="oc"/><use href="#kl" x="621" y="607" class="g"/><use href="#Kl" x="647" y="607" class="oc"/>
<use href="#Ll" x="601" y="634" class="oc"/><use href="#kl" x="621" y="634" class="g"/><use href="#Kl" x="647" y="634" class="oc"/>
<use href="#kl" x="607" y="661" class="g"/><use href="#cl" x="615" y="661" class="g"/><use href="#Kr" x="632" y="661" class="au"/>
<use href="#kl" x="607" y="688" class="g"/><use href="#cl" x="614" y="688" class="g"/><use href="#cl" x="617" y="688" class="g"/><use href="#cl" x="620" y="688" class="g"/><use href="#Kr" x="632" y="688" class="au"/>
<use href="#kl" x="607" y="715" class="g"/><use href="#cl" x="614" y="715" class="g"/><use href="#cl" x="617" y="715" class="g"/><use href="#cl" x="620" y="715" class="g"/><use href="#Kr" x="632" y="715" class="au"/>
<use href="#kl" x="607" y="742" class="g"/><use href="#cl" x="614" y="742" class="g"/><use href="#cl" x="617" y="742" class="g"/><use href="#cl" x="620" y="742" class="g"/><use href="#Kr" x="632" y="742" class="au"/>
</g>

<g id="legend">
<rect x="4" y="763" width="660" height="44" fill="none" stroke="#222" stroke-width="1.5"/>
<use href="#Tr" x="28" y="786" class="T4 k"/>
<text class="lg" x="70" y="784"><tspan font-style="italic">Toll</tspan> family</text><text class="lg" x="69" y="797">ORF</text>
<use href="#Ur" x="124" y="786" class="P4"/>
<text class="lg" x="163" y="784"><tspan font-style="italic">Toll</tspan> family</text><text class="lg" x="164" y="797">pseudogene</text>
<use href="#Kr" x="214" y="786" class="pk"/>
<text class="lg" x="244" y="778">synteny</text><text class="lg" x="244" y="790">reference</text><text class="lg" x="244" y="803">ORF</text>
<use href="#Kr" x="292" y="786" class="g"/>
<text class="lg" x="300" y="790" style="text-anchor:start">nearby ORF</text>
<rect class="db" x="380" y="777" width="12" height="18" rx="2"/>
<path class="ln" d="M394,783L397,786L394,789"/>
<text class="lg" x="436" y="784">overlapping</text><text class="lg" x="436" y="797">ORF</text>
<path class="tk" d="M484,780V792"/>
<text class="lg" x="488" y="790" style="text-anchor:start">tRNA</text>
<text class="lg" x="532" y="790">}</text>
<text class="lg" x="567" y="784">end of</text><text class="lg" x="568" y="797">scaffold</text>
<text class="lg" x="595" y="792">*</text>
<text class="lg" x="643" y="778">merged</text><text class="lg" x="643" y="790">gene</text><text class="lg" x="643" y="803">models</text>
</g>
</svg>
